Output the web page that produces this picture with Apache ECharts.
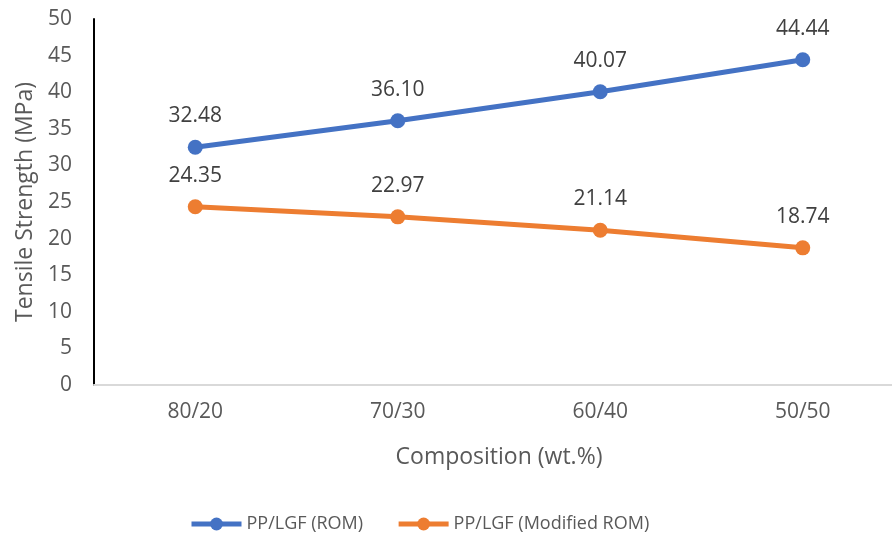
<!DOCTYPE html>
<html><head><meta charset="utf-8">
<script src="https://cdn.jsdelivr.net/npm/echarts@6/dist/echarts.min.js"></script>
<style>html,body{margin:0;padding:0;background:#fff}#c{width:892px;height:540px}</style>
</head><body><div id="c"></div>
<script>
const categories = ['80/20', '70/30', '60/40', '50/50'];
const romValues = [32.48, 36.10, 40.07, 44.44];
const modifiedRomValues = [24.35, 22.97, 21.14, 18.74];
const seriesNames = ['PP/LGF (ROM)', 'PP/LGF (Modified ROM)'];
const seriesColors = ['#4472C4', '#ED7D31'];

const FONT = '"Open Sans", "Liberation Sans", sans-serif';
const chart = echarts.init(document.getElementById('c'), null, {renderer: 'canvas'});
const labelStyle = {show: true, position: 'top', distance: 13, color: '#404040', fontSize: 21, fontFamily: FONT,
  formatter: p => p.value.toFixed(2)};
chart.setOption({
  animation: false,
  backgroundColor: '#fff',
  textStyle: {fontFamily: FONT},
  grid: {left: 94, top: 19, width: 810, height: 366, containLabel: false, outerBoundsMode: 'none'},
  legend: {
    bottom: 2, left: 184, itemWidth: 50, itemHeight: 16, itemGap: 33,
    textStyle: {fontSize: 18, color: '#595959', fontFamily: FONT},
    data: seriesNames.map((n, i) => ({name: n, lineStyle: {width: 5, color: seriesColors[i]}}))
  },
  xAxis: {
    type: 'category', data: categories, boundaryGap: true,
    name: 'Composition (wt.%)', nameLocation: 'middle', nameGap: 61,
    nameTextStyle: {fontSize: 23, color: '#595959', fontFamily: FONT},
    axisLine: {lineStyle: {color: '#d9d9d9', width: 2}},
    axisTick: {show: false},
    axisLabel: {fontSize: 21, color: '#595959', margin: 17, fontFamily: FONT},
    splitLine: {show: false}
  },
  yAxis: {
    type: 'value', min: 0, max: 50, interval: 5,
    name: 'Tensile Strength (MPa)', nameLocation: 'middle', nameGap: 57,
    nameTextStyle: {fontSize: 23, color: '#595959', fontFamily: FONT},
    axisLine: {show: true, lineStyle: {color: '#000', width: 2}},
    axisTick: {show: false},
    axisLabel: {fontSize: 21, color: '#595959', margin: 22, fontFamily: FONT},
    splitLine: {show: false}
  },
  series: [
    {name: seriesNames[0], type: 'line', data: romValues, symbol: 'circle', symbolSize: 15,
     lineStyle: {width: 5, color: seriesColors[0]}, itemStyle: {color: seriesColors[0]}, label: labelStyle},
    {name: seriesNames[1], type: 'line', data: modifiedRomValues, symbol: 'circle', symbolSize: 15,
     lineStyle: {width: 5, color: seriesColors[1]}, itemStyle: {color: seriesColors[1]}, label: labelStyle}
  ]
});
</script></body></html>
